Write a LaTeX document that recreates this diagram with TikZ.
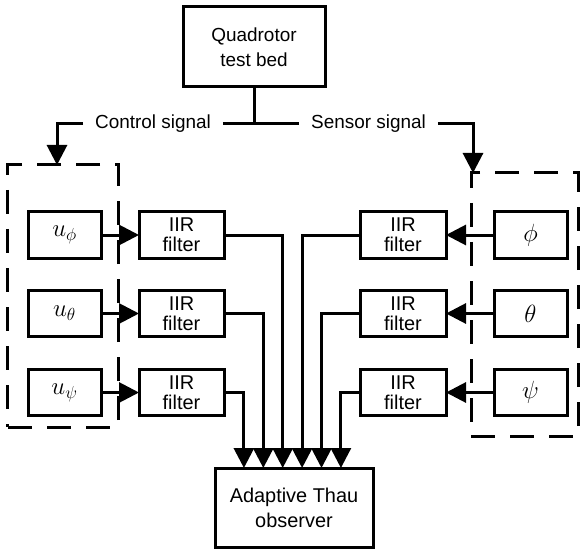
\RequirePackage{fix-cm}
\documentclass[tikz,border=0pt]{standalone}
\usepackage{fontspec}
\setmainfont{Liberation Sans}
\usetikzlibrary{arrows.meta,calc}
\begin{document}
\begin{tikzpicture}[x=1bp,y=-1bp,
  line width=3bp,
  every node/.style={inner sep=0pt, outer sep=0pt},
  blk/.style={draw, rectangle, align=center, font=\fontsize{20}{20}\selectfont},
  ubox/.style={blk, minimum width=73bp, minimum height=46bp, font=\fontsize{25}{25}\selectfont},
  fbox/.style={blk, minimum width=85bp, minimum height=46bp},
  grp/.style={draw, rectangle, dash pattern=on 24bp off 15bp},
  lbl/.style={font=\fontsize{19}{19}\selectfont, inner xsep=12bp},
  arr/.style={-{Triangle[length=20bp,width=20bp]}}
]
\useasboundingbox (0,0) rectangle (580,550);
% top
\node[blk, minimum width=142bp, minimum height=80bp, font=\fontsize{19}{25}\selectfont] (qt) at (254,47) {Quadrotor\\test bed};
\coordinate (jn) at (254,124);
\node[lbl] (cs) at (153,124) {Control signal};
\node[lbl] (ss) at (368.5,124) {Sensor signal};
% groups
\node[grp, minimum width=110bp, minimum height=262bp] (lg) at (63,296) {};
\node[grp, minimum width=107bp, minimum height=263bp] (rg) at (524.5,304.5) {};
% left column
\node[ubox] (u1) at (64.5,235) {$u_\phi$};
\node[ubox] (u2) at (64.5,313.5) {$u_\theta$};
\node[ubox] (u3) at (64.5,392.5) {$u_\psi$};
\node[fbox] (lf1) at (181.5,235) {IIR\\filter};
\node[fbox] (lf2) at (181.5,313.5) {IIR\\filter};
\node[fbox] (lf3) at (181.5,392.5) {IIR\\filter};
% right column
\node[ubox] (s1) at (530.5,235) {$\phi$};
\node[ubox] (s2) at (530.5,313.5) {$\theta$};
\node[ubox] (s3) at (530.5,392.5) {$\psi$};
\node[fbox, minimum width=86bp] (rf1) at (403,235) {IIR\\filter};
\node[fbox, minimum width=86bp] (rf2) at (403,313.5) {IIR\\filter};
\node[fbox, minimum width=86bp] (rf3) at (403,392.5) {IIR\\filter};
% observer
\node[blk, minimum width=158bp, minimum height=79bp, font=\fontsize{20}{25}\selectfont] (ob) at (294,507.5) {Adaptive Thau\\observer};
% connectors
\draw (qt.south) -- (jn);
\draw (cs.east) -- (ss.west);
\draw[arr] (cs.west) -| ([xshift=-6bp]lg.north);
\draw[arr] (ss.east) -| ([xshift=-51.5bp]rg.north);
\foreach \i in {1,2,3}{
  \draw[arr] (u\i.east) -- (lf\i.west);
  \draw[arr] (s\i.west) -- (rf\i.east);
}
\draw[arr] (lf1.east) -| ([xshift=-11.3bp]ob.north);
\draw[arr] (lf2.east) -| ([xshift=-30.7bp]ob.north);
\draw[arr] (lf3.east) -| ([xshift=-50.1bp]ob.north);
\draw[arr] (rf1.west) -| ([xshift=8.1bp]ob.north);
\draw[arr] (rf2.west) -| ([xshift=27.5bp]ob.north);
\draw[arr] (rf3.west) -| ([xshift=46.9bp]ob.north);
\end{tikzpicture}
\end{document}
